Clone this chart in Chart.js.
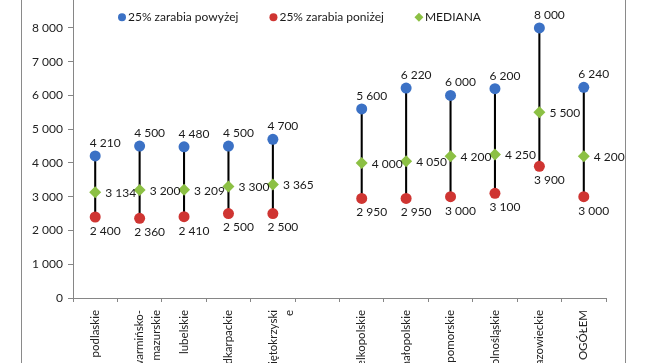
<!DOCTYPE html>
<html><head><meta charset="utf-8">
<script src="https://cdn.jsdelivr.net/npm/chart.js@4.4.0/dist/chart.umd.min.js"></script>
<style>
html,body{margin:0;padding:0;width:645px;height:363px;overflow:hidden;background:#fff;}
#wrap{position:absolute;left:0;top:-18px;width:645px;height:436px;}
.frame{position:absolute;top:0;height:363px;width:1px;background:#8a8a8a;}
</style></head><body>
<div class="frame" style="left:21px"></div>
<div class="frame" style="left:625px"></div>
<div id="wrap"><canvas id="c"></canvas></div>
<script>
const categories = ["podlaskie", ["warmińsko-", "mazurskie"], "lubelskie", "podkarpackie", ["świętokrzyski", "e"], "",
  "wielkopolskie", "małopolskie", "pomorskie", "dolnośląskie", "mazowieckie", "OGÓŁEM"];
const top25    = [4210, 4500, 4480, 4500, 4700, null, 5600, 6220, 6000, 6200, 8000, 6240];
const bottom25 = [2400, 2360, 2410, 2500, 2500, null, 2950, 2950, 3000, 3100, 3900, 3000];
const median   = [3134, 3200, 3209, 3300, 3365, null, 4000, 4050, 4200, 4250, 5500, 4200];
const seriesNames = ["25% zarabia powyżej", "25% zarabia poniżej", "MEDIANA"];
const yMin = 0, yMax = 9000, yStep = 1000, yLastLabel = 8000;

const BLUE = '#3b71c5', RED = '#cf3532', GREEN = '#8cc044';
const FONT = 'Lato';
const fmt = v => String(v).replace(/\B(?=(\d{3})+(?!\d))/g, ' ');

const ranges = top25.map((t, i) => (t == null ? null : [bottom25[i], t]));

const valueLabels = {
  id: 'valueLabels',
  afterDatasetsDraw(chart) {
    const ctx = chart.ctx;
    ctx.save();
    ctx.font = '12px ' + FONT;
    ctx.fillStyle = '#1a1a1a';
    chart.data.datasets.forEach((ds, i) => {
      if (!ds.labelPos) return;
      const meta = chart.getDatasetMeta(i);
      meta.data.forEach((pt, j) => {
        const v = ds.data[j];
        if (v == null) return;
        const t = fmt(v);
        ctx.textBaseline = 'middle';
        if (ds.labelPos === 'above') { ctx.textAlign = 'center'; ctx.fillText(t, pt.x + 10, pt.y - 13); }
        else if (ds.labelPos === 'below') { ctx.textAlign = 'center'; ctx.fillText(t, pt.x + 10, pt.y + 14); }
        else { ctx.textAlign = 'left'; ctx.fillText(t, pt.x + 10, pt.y + 1); }
      });
    });
    ctx.restore();
  }
};

const overlayLegend = {
  id: 'overlayLegend',
  afterDraw(chart) {
    const ctx = chart.ctx, ca = chart.chartArea;
    ctx.save();
    ctx.font = '12px ' + FONT;
    ctx.fillStyle = '#1a1a1a';
    ctx.textBaseline = 'middle';
    ctx.textAlign = 'left';
    const y = ca.top + 23;
    let x = ca.left + 49;
    const styles = [[BLUE, 'circle'], [RED, 'circle'], [GREEN, 'diamond']];
    seriesNames.forEach((name, i) => {
      const [col, st] = styles[i];
      ctx.fillStyle = col;
      ctx.beginPath();
      if (st === 'circle') ctx.arc(x, y, 4, 0, Math.PI * 2);
      else { ctx.moveTo(x, y - 4.5); ctx.lineTo(x + 4.5, y); ctx.lineTo(x, y + 4.5); ctx.lineTo(x - 4.5, y); ctx.closePath(); }
      ctx.fill();
      ctx.fillStyle = '#1a1a1a';
      ctx.fillText(name, x + 6, y);
      x += 6 + ctx.measureText(name).width + 35;
    });
    ctx.restore();
  }
};

new Chart(document.getElementById('c'), {
  type: 'bar',
  data: {
    labels: categories,
    datasets: [
      { type: 'line', label: seriesNames[0], data: top25, showLine: false, pointStyle: 'circle', pointRadius: 5.5,
        pointBackgroundColor: BLUE, pointBorderColor: BLUE, pointBorderWidth: 0, order: 1, labelPos: 'above' },
      { type: 'line', label: seriesNames[1], data: bottom25, showLine: false, pointStyle: 'circle', pointRadius: 5.5,
        pointBackgroundColor: RED, pointBorderColor: RED, pointBorderWidth: 0, order: 2, labelPos: 'below' },
      { type: 'line', label: seriesNames[2], data: median, showLine: false, pointStyle: 'rectRot', pointRadius: 6,
        pointBackgroundColor: GREEN, pointBorderColor: GREEN, pointBorderWidth: 0, order: 0, labelPos: 'right' },
      { type: 'bar', label: 'range', data: ranges, backgroundColor: '#000', borderWidth: 0, barThickness: 1.4, order: 10 }
    ]
  },
  options: {
    responsive: true, maintainAspectRatio: false, animation: false,
    layout: { padding: { left: 0, right: 39, top: 0, bottom: 0 } },
    plugins: { legend: { display: false }, tooltip: { enabled: false } },
    scales: {
      x: {
        offset: true,
        grid: { offset: true, drawOnChartArea: false, drawTicks: true, tickLength: 4, color: '#868686' },
        border: { color: '#868686', width: 1 },
        ticks: { minRotation: 90, maxRotation: 90, autoSkip: false, padding: 8, color: '#222',
          font: { family: FONT, size: 11.5, lineHeight: 1.45 } },
        afterFit(s) { s.height = 120; }
      },
      y: {
        min: yMin, max: yMax,
        grid: { drawOnChartArea: false, drawTicks: true, tickLength: 5, color: '#868686' },
        border: { color: '#868686', width: 1 },
        ticks: { stepSize: yStep, padding: 5, color: '#222', font: { family: FONT, size: 12 },
          callback: v => (v > yLastLabel ? '' : fmt(v)) },
        afterFit(s) { s.width = 73; }
      }
    }
  },
  plugins: [valueLabels, overlayLegend]
});
</script>
</body></html>
